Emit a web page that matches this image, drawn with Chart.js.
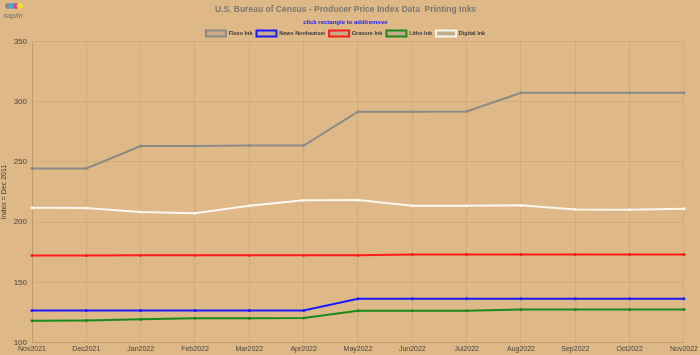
<!DOCTYPE html>
<html>
<head>
<meta charset="utf-8">
<script src="https://cdn.jsdelivr.net/npm/chart.js@4/dist/chart.umd.min.js"></script>
<style>
  html, body { margin: 0; padding: 0; background: #DEB887; }
  #wrap { position: relative; width: 700px; height: 355px; }
  #logo { position: absolute; left: 2px; top: 2px; width: 22px; text-align: center; font-family: "Liberation Sans", sans-serif; }
  #logo .dots { height: 8px; position: relative; }
  #logo .dots span { position: absolute; top: 1px; width: 6px; height: 6px; border-radius: 50%; }
  #logo .name { font-size: 7px; font-style: italic; color: #7a6a66; line-height: 7px; margin-top: 2px; }
</style>
</head>
<body>
<div id="wrap">
  <canvas id="c" width="700" height="355"></canvas>
  <div id="logo">
    <div class="dots">
      <span style="left:3px;background:#8a8a8a"></span>
      <span style="left:7px;background:#35b6d8"></span>
      <span style="left:11px;background:#e0409a"></span>
      <span style="left:15px;background:#f2e030"></span>
    </div>
    <div class="name">napim</div>
  </div>
</div>
<script>
const categories = ["Nov2021","Dec2021","Jan2022","Feb2022","Mar2022","Apr2022","May2022","Jun2022","Jul2022","Aug2022","Sep2022","Oct2022","Nov2022"];
const flexoInk      = [244.5, 244.6, 263.2, 263.2, 263.5, 263.5, 291.6, 291.6, 291.9, 307.3, 307.3, 307.3, 307.3];
const newsNonheatset= [126.7, 126.7, 126.7, 126.7, 126.7, 126.7, 136.4, 136.4, 136.4, 136.4, 136.4, 136.4, 136.4];
const gravureInk    = [172.3, 172.3, 172.4, 172.4, 172.4, 172.4, 172.5, 173.1, 173.1, 173.1, 173.1, 173.1, 173.1];
const lithoInk      = [118.1, 118.3, 119.4, 120.2, 120.2, 120.4, 126.4, 126.4, 126.4, 127.4, 127.4, 127.4, 127.4];
const digitalInk    = [211.9, 211.8, 208.4, 207.3, 213.5, 218.1, 218.4, 213.6, 213.6, 214.0, 210.4, 210.2, 211.0];
const yTicks = [100, 150, 200, 250, 300, 350];

function ds(label, data, color) {
  return {
    label, data,
    borderColor: color,
    backgroundColor: 'rgba(160,150,140,0.35)',
    pointBackgroundColor: color,
    pointBorderColor: color,
    pointRadius: 1.5,
    pointBorderWidth: 0,
    pointHoverRadius: 3,
    borderWidth: 2,
    tension: 0,
    fill: false
  };
}

const tightLegend = {
  id: 'tightLegend',
  afterInit(chart) {
    const lg = chart.legend;
    if (!lg) return;
    const fit = lg.fit;
    lg.fit = function () { fit.call(this); this.height = Math.max(0, this.height - 5); };
  }
};

new Chart(document.getElementById('c'), {
  type: 'line',
  plugins: [tightLegend],
  data: {
    labels: categories,
    datasets: [
      ds('Flexo Ink', flexoInk, '#8a8a86'),
      ds('News Nonheatset', newsNonheatset, '#1a1aff'),
      ds('Gravure Ink', gravureInk, '#ff1a1a'),
      ds('Litho Ink', lithoInk, '#1a8a1a'),
      ds('Digital Ink', digitalInk, '#fbf6ee')
    ]
  },
  options: {
    responsive: false,
    animation: false,
    layout: { padding: { left: 0, right: 9, top: 0, bottom: 0 } },
    plugins: {
      title: {
        display: true,
        text: 'U.S. Bureau of Census - Producer Price Index Data  Printing Inks',
        color: '#7c7870',
        font: { family: 'Liberation Sans', size: 8.5, weight: 'bold' },
        padding: { top: 5, bottom: 4 }
      },
      subtitle: {
        display: true,
        text: 'click rectangle to add/remove',
        color: '#1a1aff',
        font: { family: 'Liberation Sans', size: 6, weight: 'bold' },
        padding: { top: 0, bottom: 0 }
      },
      legend: {
        display: true,
        labels: {
          boxWidth: 20,
          boxHeight: 6,
          padding: 4,
          color: '#3a3a3a',
          font: { family: 'Liberation Sans', size: 5.5, weight: 'bold' },
          generateLabels(chart) {
            return chart.data.datasets.map((d, i) => ({
              text: d.label,
              fillStyle: 'rgba(160,150,140,0.35)',
              strokeStyle: d.borderColor,
              lineWidth: 2,
              hidden: !chart.isDatasetVisible(i),
              datasetIndex: i,
              fontColor: '#3a3a3a'
            }));
          }
        }
      },
      tooltip: { enabled: true }
    },
    scales: {
      x: {
        grid: { color: 'rgba(120,90,60,0.13)', drawTicks: false },
        border: { color: 'rgba(120,90,60,0.2)' },
        ticks: {
          color: '#4a4440',
          font: { family: 'Liberation Sans', size: 7 },
          maxRotation: 0, autoSkip: false, padding: 2
        }
      },
      y: {
        min: 100, max: 350,
        afterBuildTicks(axis) { axis.ticks = yTicks.map(v => ({ value: v })); },
        afterFit(axis) { axis.width = 32; },
        grid: { color: 'rgba(120,90,60,0.13)', drawTicks: false },
        border: { color: 'rgba(120,90,60,0.2)' },
        title: {
          display: true,
          text: 'Index = Dec 2011',
          color: '#3a3a3a',
          font: { family: 'Liberation Sans', size: 7 },
          padding: 0
        },
        ticks: {
          color: '#4a4440',
          font: { family: 'Liberation Sans', size: 8 },
          padding: 5
        }
      }
    }
  }
});
</script>
</body>
</html>
